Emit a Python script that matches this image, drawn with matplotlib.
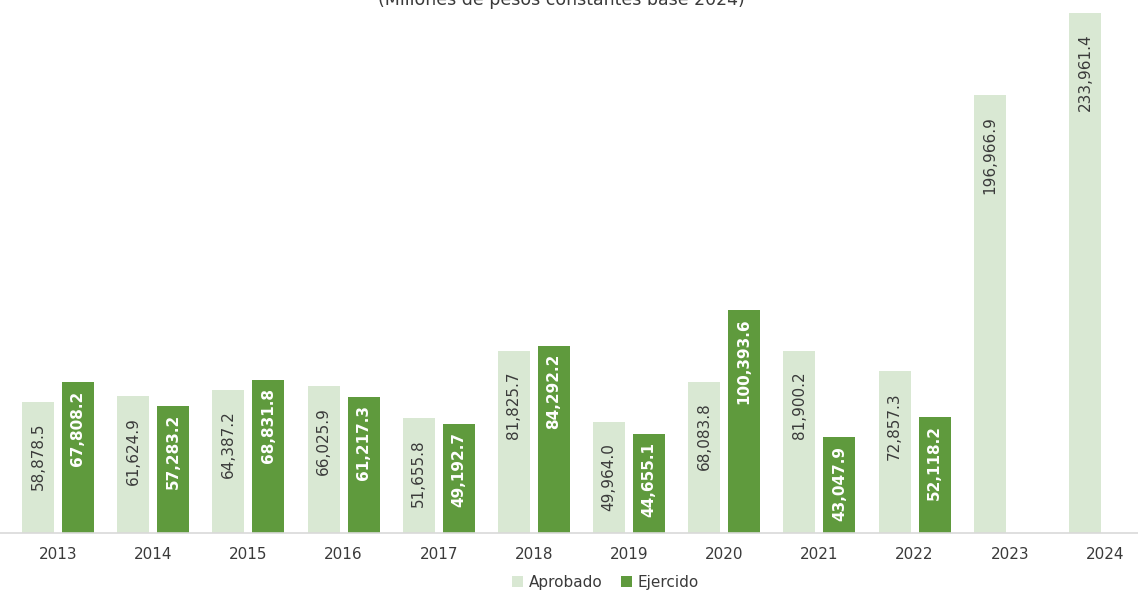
import matplotlib
matplotlib.use("Agg")
import matplotlib.pyplot as plt
import numpy as np

years = ["2013", "2014", "2015", "2016", "2017", "2018", "2019", "2020", "2021", "2022", "2023", "2024"]
aprobado = [58878.5, 61624.9, 64387.2, 66025.9, 51655.8, 81825.7, 49964.0, 68083.8, 81900.2, 72857.3, 196966.9, 233961.4]
ejercido = [67808.2, 57283.2, 68831.8, 61217.3, 49192.7, 84292.2, 44655.1, 100393.6, 43047.9, 52118.2, None, None]

c_apr = "#d9e8d3"
c_eje = "#5f9a3d"
txt = "#3a3a3a"

plt.rcParams["font.family"] = ["DejaVu Sans"]

fig = plt.figure(figsize=(11.38, 5.92), dpi=100)
ax = fig.add_axes([0, 59 / 592, 1, 533 / 592])

x = np.arange(len(years))
w = 0.336
off = 0.21

b1 = ax.bar(x - off, aprobado, w, color=c_apr, label="Aprobado")
ej_x = [xi + off for xi, v in zip(x, ejercido) if v is not None]
ej_v = [v for v in ejercido if v is not None]
b2 = ax.bar(ej_x, ej_v, w, color=c_eje, label="Ejercido")

for xi, v in zip(x - off, aprobado):
    ax.annotate(f"{v:,.1f}", (xi, v), xytext=(0, -15), textcoords="offset points",
                rotation=90, ha="center", va="top", fontsize=11, color=txt)
for xi, v in zip(ej_x, ej_v):
    ax.annotate(f"{v:,.1f}", (xi, v), xytext=(0, -6), textcoords="offset points",
                rotation=90, ha="center", va="top", fontsize=11, color="white",
                fontweight="bold")

ax.set_xlim(-58 / 95.18, (1138 - 58) / 95.18)
ax.set_ylim(0, 533 * 233961.4 / 520)
ax.set_xticks(x)
ax.set_xticklabels(years, fontsize=11, color=txt)
ax.tick_params(axis="x", length=0, pad=10)
ax.set_yticks([])
for s in ["top", "left", "right"]:
    ax.spines[s].set_visible(False)
ax.spines["bottom"].set_color("#d9d9d9")
ax.spines["bottom"].set_linewidth(1.2)

# title sits partly above the canvas, as in the source image
fig.text(0.493, 1 - 5 / 592, "(Millones de pesos constantes base 2024)",
         ha="center", va="baseline", fontsize=12.5, color=txt)

fig.legend(handles=[b1, b2], loc="center", bbox_to_anchor=(0.532, 10 / 592), ncol=2,
           frameon=False, fontsize=11, handlelength=0.7, handleheight=0.7,
           handletextpad=0.4, columnspacing=1.2, labelcolor=txt)

fig.savefig("out.png", dpi=100)
